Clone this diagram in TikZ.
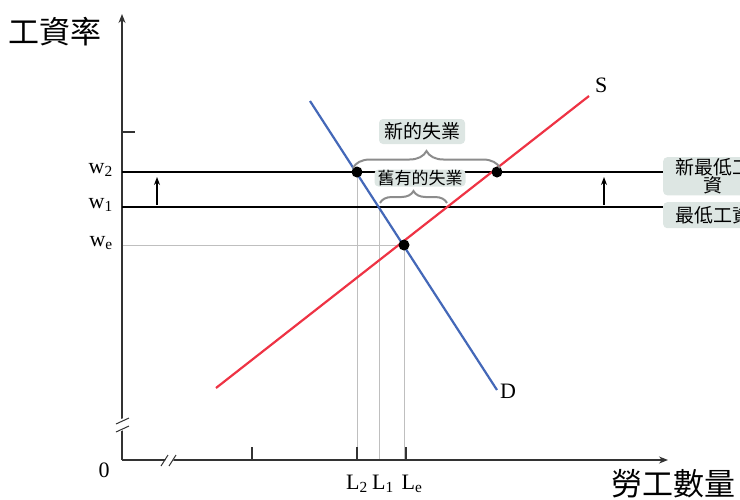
\documentclass[tikz,border=0pt]{standalone}
\usepackage{fontspec}
\setmainfont{Liberation Serif}
\newfontfamily\cjk{Noto Sans CJK TC}
\usetikzlibrary{decorations.pathreplacing,arrows.meta}
\definecolor{boxfill}{HTML}{DDE6E3}
\definecolor{bracegray}{HTML}{8C8C8C}
\definecolor{dblue}{HTML}{4468B8}
\definecolor{sred}{HTML}{EE3344}
\tikzset{
  axis/.style={draw=black!80, line width=1.3pt},
  wline/.style={draw=black, line width=2.4pt},
  guide/.style={draw=black!25, line width=0.9pt},
  dot/.style={circle, fill=black, inner sep=0pt, minimum size=11pt},
  lab/.style={font=\fontsize{22}{22}\selectfont, inner sep=0pt},
  cjklab/.style={font=\cjk\fontsize{31}{31}\selectfont, inner sep=0pt},
  tag/.style={fill=boxfill, rounded corners=4pt, font=\cjk\fontsize{19}{19}\selectfont, inner xsep=5pt, inner ysep=2pt, align=center},
  bracestyle/.style={draw=bracegray, line width=2pt, decorate, decoration={brace, amplitude=#1}},
  uparrow/.style={draw=black, line width=1.2pt, -{Stealth[length=8pt,width=6pt]}},
}
\begin{document}
\begin{tikzpicture}[x=1pt,y=-1pt]
\useasboundingbox (0,0) rectangle (740,499);
\clip (0,0) rectangle (740,499);
% coordinates
\coordinate (O) at (122,460);
\coordinate (ytop) at (122,14);
\coordinate (xend) at (668,460);
% guide lines
\coordinate (E) at (404,245);
\coordinate (A) at (357,172);
\coordinate (B) at (497,172);
\coordinate (C) at (379,207);
\coordinate (w2l) at (122,172);
\coordinate (w2r) at (663,172);
\coordinate (w1l) at (122,207);
\coordinate (w1r) at (663,207);
\coordinate (wel) at (122,245);
\draw[guide] (wel) -- (E);
\draw[guide] (A) -- (A |- O);
\draw[guide] (C) -- (C |- O);
\draw[guide] (E) -- (E |- O);
% axes
\draw[axis, -{Stealth[length=9pt,width=7pt]}] (O) -- (ytop);
\fill[white] (115,421) -- (130,416) -- (130,428) -- (115,433) -- cycle;
\draw[axis, line width=1pt] (116,424) -- (129,418);
\draw[axis, line width=1pt] (116,432) -- (129,426);
\draw[axis, -{Stealth[length=9pt,width=7pt]}] (O) -- (xend);
\fill[white] (163,465) -- (168,455) -- (176,455) -- (171,465) -- cycle;
\draw[axis, line width=1pt] (161,466) -- (168,455);
\draw[axis, line width=1pt] (169,466) -- (176,455);
% ticks
\draw[axis] (122,132) -- (135,132);
\draw[axis] (252,460) -- (252,447);
\draw[axis] (357,460) -- (357,447);
\draw[axis] (406,460) -- (406,447);
% wage lines
\draw[wline] (w2l) -- (w2r);
\draw[wline] (w1l) -- (w1r);
% arrows
\coordinate (a1s) at (157,205);
\coordinate (a1e) at (157,177);
\coordinate (a2s) at (604,205);
\coordinate (a2e) at (604,177);
\draw[uparrow] (a1s) -- (a1e);
\draw[uparrow] (a2s) -- (a2e);
% curves
\coordinate (D1) at (310,101);
\coordinate (D2) at (497,390);
\coordinate (S1) at (216,388);
\coordinate (S2) at (589,96);
\draw[draw=dblue, line width=2.2pt] (D1) -- (D2);
\draw[draw=sred, line width=2.2pt] (S1) -- (S2);
\node[lab, anchor=west] (Dl) at (500,391) {D};
\node[lab, anchor=west] (Sl) at (595,85) {S};
% dots
\node[dot] (dA) at (A) {};
\node[dot] (dB) at (B) {};
\node[dot] (dE) at (E) {};
% braces
\draw[bracestyle=17] (353,168) -- (500,168);
\draw[bracestyle=12] (380,203) -- (447,203);
\node[tag, minimum height=25pt] (t1) at (422,131.5) {新的失業};
\node[tag, font=\cjk\fontsize{17}{17}\selectfont, inner ysep=0pt, inner xsep=3pt, minimum height=17pt] (t2) at (420,178) {舊有的失業};
\node[tag, anchor=north west, text width=90pt, inner xsep=5pt, inner ysep=1pt, font=\cjk\fontsize{19}{16}\selectfont, minimum height=35pt] (t3) at (663,157) {新最低工\\資};
\node[tag, anchor=north west, text width=90pt, inner xsep=5pt, inner ysep=1pt, minimum height=26pt] (t4) at (663,202) {最低工資};
% labels
\node[lab, anchor=east] (lw2) at (113,170) {w\textsubscript{2}};
\node[lab, anchor=east] (lw1) at (113,205) {w\textsubscript{1}};
\node[lab, anchor=east] (lwe) at (113,243) {w\textsubscript{e}};
\node[lab] (l0) at (104,470) {0};
\node[lab] (lL2) at (357,484) {L\textsubscript{2}};
\node[lab] (lL1) at (383,484) {L\textsubscript{1}};
\node[lab] (lLe) at (412,484) {L\textsubscript{e}};
\node[cjklab, anchor=west] (ty) at (8,32) {工資率};
\node[cjklab, anchor=west] (tx) at (611,484) {勞工數量};
\end{tikzpicture}
\end{document}
